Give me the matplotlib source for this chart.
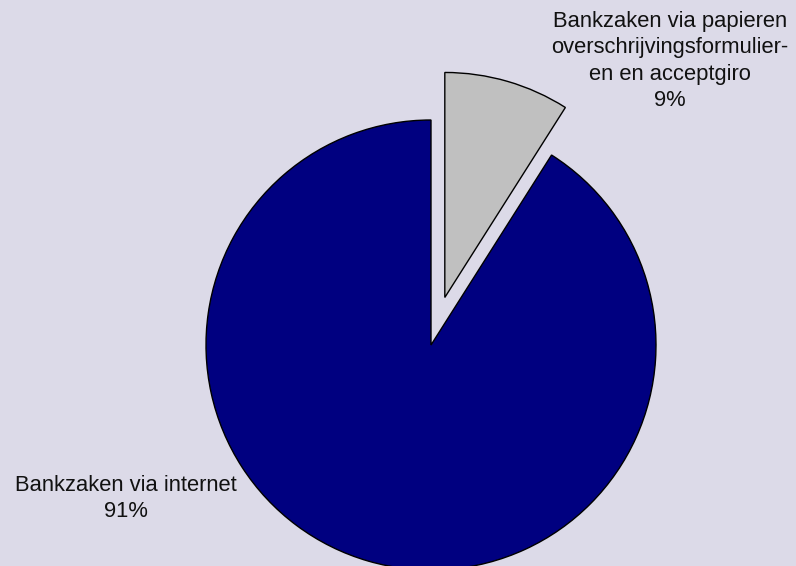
import matplotlib.pyplot as plt

labels = ["Bankzaken via internet",
          "Bankzaken via papieren\noverschrijvingsformulier-\nen en acceptgiro"]
shares = [91, 9]
colors = ["#000080", "#C0C0C0"]
explode = [0, 0.22]

plt.rcParams['font.family'] = ['Liberation Sans', 'DejaVu Sans']

fig = plt.figure(figsize=(7.96, 5.66), dpi=100, facecolor="#DCDAE8")
ax = fig.add_axes([0, 0, 1, 1])
ax.set_facecolor("#DCDAE8")

# second slice is listed last but drawn clockwise from 12 o'clock first
ax.pie(shares[::-1], colors=colors[::-1], explode=explode[::-1],
       startangle=90, counterclock=False, radius=1,
       wedgeprops=dict(edgecolor="black", linewidth=1.0))

label_pos = [(-1.356, -0.684), (1.062, 1.262)]
for lab, val, (x, y) in zip(labels, shares, label_pos):
    ax.text(x, y, f"{lab}\n{val}%", ha="center", va="center",
            fontsize=15.8, linespacing=1.32, color="#111111")

ax.set_xlim(-431 / 225, (796 - 431) / 225)
ax.set_ylim(-(566 - 345) / 225, 345 / 225)
ax.set_aspect("equal")
ax.axis("off")

fig.savefig("out.png", dpi=100, facecolor=fig.get_facecolor())
